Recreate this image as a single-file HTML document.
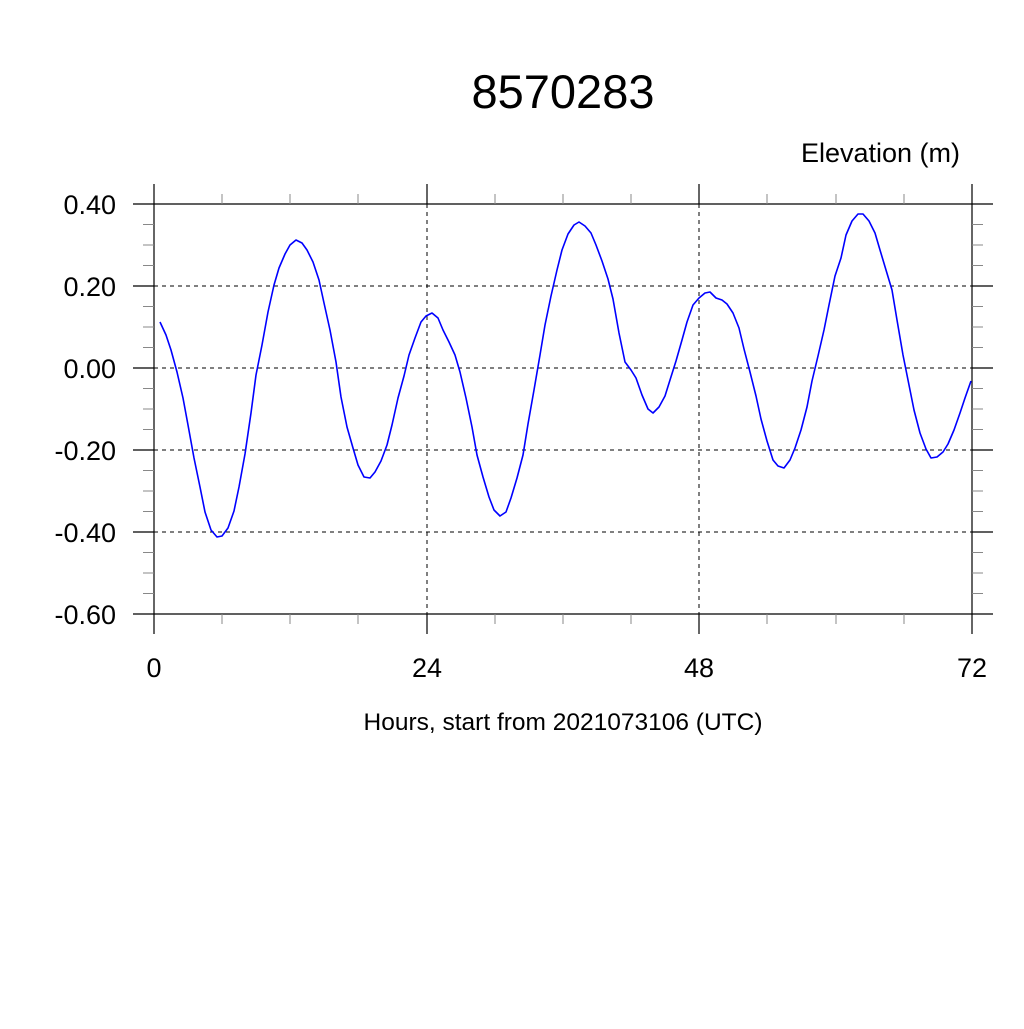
<!DOCTYPE html>
<html><head><style>html,body{margin:0;padding:0;background:#fff}</style></head><body>
<svg width="1024" height="1024" xmlns="http://www.w3.org/2000/svg" font-family="Liberation Sans, sans-serif">
<rect width="1024" height="1024" fill="#fff"/>
<text x="563" y="108" font-size="47" text-anchor="middle">8570283</text>
<text x="960" y="162" font-size="27" text-anchor="end">Elevation (m)</text>
<g stroke="#000" stroke-width="1" stroke-dasharray="4,4">
<line x1="154" y1="286" x2="972" y2="286"/><line x1="154" y1="368" x2="972" y2="368"/>
<line x1="154" y1="450" x2="972" y2="450"/><line x1="154" y1="532" x2="972" y2="532"/>
<line x1="427" y1="204" x2="427" y2="614"/><line x1="699" y1="204" x2="699" y2="614"/>
</g>
<g stroke="#000" stroke-width="1.2">
<line x1="133" y1="204" x2="993" y2="204"/><line x1="133" y1="614" x2="993" y2="614"/>
<line x1="133" y1="286" x2="154" y2="286"/><line x1="133" y1="368" x2="154" y2="368"/><line x1="133" y1="450" x2="154" y2="450"/><line x1="133" y1="532" x2="154" y2="532"/>
<line x1="972" y1="286" x2="993" y2="286"/><line x1="972" y1="368" x2="993" y2="368"/><line x1="972" y1="450" x2="993" y2="450"/><line x1="972" y1="532" x2="993" y2="532"/>
<line x1="154" y1="184" x2="154" y2="634"/><line x1="972" y1="184" x2="972" y2="634"/>
<line x1="427" y1="184" x2="427" y2="204"/><line x1="699" y1="184" x2="699" y2="204"/>
<line x1="427" y1="614" x2="427" y2="634"/><line x1="699" y1="614" x2="699" y2="634"/>
</g>
<g stroke="#888" stroke-width="1">
<path d="M222 194V204M290 194V204M358 194V204M495 194V204M563 194V204M631 194V204M767 194V204M836 194V204M904 194V204
M222 614V624M290 614V624M358 614V624M495 614V624M563 614V624M631 614V624M767 614V624M836 614V624M904 614V624
M143 224.5H154M143 245H154M143 265.5H154M143 306.5H154M143 327H154M143 347.5H154M143 388.5H154M143 409H154M143 429.5H154M143 470.5H154M143 491H154M143 511.5H154M143 552.5H154M143 573H154M143 593.5H154
M972 224.5H983M972 245H983M972 265.5H983M972 306.5H983M972 327H983M972 347.5H983M972 388.5H983M972 409H983M972 429.5H983M972 470.5H983M972 491H983M972 511.5H983M972 552.5H983M972 573H983M972 593.5H983"/>
</g>
<g font-size="27" text-anchor="end">
<text x="116" y="214">0.40</text><text x="116" y="296">0.20</text><text x="116" y="378">0.00</text>
<text x="116" y="460">-0.20</text><text x="116" y="542">-0.40</text><text x="116" y="624">-0.60</text>
</g>
<g font-size="27" text-anchor="middle">
<text x="154" y="677">0</text><text x="427" y="677">24</text><text x="699" y="677">48</text><text x="972" y="677">72</text>
</g>
<text x="563" y="730" font-size="24.5" text-anchor="middle">Hours, start from 2021073106 (UTC)</text>
<polyline fill="none" stroke="#00f" stroke-width="1.6" stroke-linejoin="round" points="160,322 166,335 171,350 177,372 183,398 188,425 194,458 200,487 205,512 211,530 217,537 222,536 228,528 234,511 239,487 245,454 251,413 256,375 262,345 268,312 274,285 279,268 285,254 290,245 296,240 302,243 307,250 313,262 319,280 324,303 330,330 336,362 341,397 347,427 353,448 358,465 364,477 370,478 375,472 381,461 387,445 392,425 398,398 404,376 409,355 415,338 421,322 426,316 432,313 438,318 443,330 449,342 455,355 460,372 466,398 472,427 477,455 483,477 489,497 494,510 500,516 506,512 511,498 517,478 523,455 528,424 534,390 540,355 545,325 551,296 557,270 562,250 568,234 574,225 579,222 585,226 591,233 596,245 602,261 608,279 613,299 619,333 625,362 631,370 636,378 642,395 648,409 653,413 659,407 665,396 670,380 676,361 682,340 687,322 693,305 699,298 705,293 710,292 716,298 722,300 727,304 733,313 739,328 744,349 750,372 756,396 761,419 767,441 773,460 778,466 784,468 790,460 795,448 801,430 807,407 812,381 818,356 824,330 829,305 835,276 841,258 846,235 852,221 858,214 863,214 869,221 875,233 880,250 886,270 892,290 897,320 903,355 909,385 914,410 920,433 926,449 931,458 937,457 943,452 948,444 954,430 960,413 965,398 971,381"/>
</svg>
</body></html>
